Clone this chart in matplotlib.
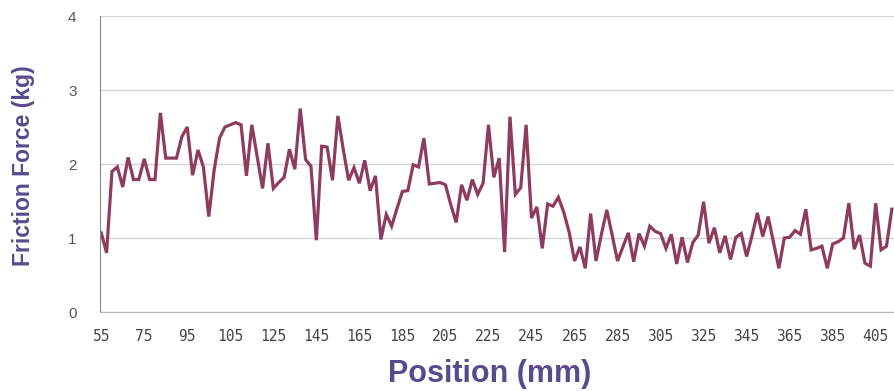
import numpy as np
import matplotlib.pyplot as plt

# friction readings, one per sample along the track
friction = [
    1.07, 0.80, 1.90, 1.96, 1.69, 2.09, 1.79, 1.79, 2.07, 1.79,
    1.79, 2.69, 2.08, 2.08, 2.08, 2.37, 2.50, 1.85, 2.19, 1.96,
    1.29, 1.92, 2.35, 2.50, 2.53, 2.56, 2.53, 1.84, 2.53, 2.10,
    1.67, 2.28, 1.67, 1.75, 1.82, 2.20, 1.93, 2.75, 2.06, 1.97,
    0.97, 2.24, 2.23, 1.78, 2.65, 2.20, 1.78, 1.95, 1.74, 2.05,
    1.64, 1.84, 0.98, 1.32, 1.16, 1.40, 1.63, 1.64, 1.99, 1.96,
    2.35, 1.73, 1.74, 1.75, 1.72, 1.45, 1.21, 1.72, 1.51, 1.79,
    1.59, 1.74, 2.53, 1.82, 2.08, 0.81, 2.64, 1.59, 1.68, 2.53,
    1.27, 1.42, 0.86, 1.46, 1.43, 1.55, 1.35, 1.08, 0.69, 0.88,
    0.59, 1.33, 0.69, 1.05, 1.38, 1.04, 0.69, 0.88, 1.07, 0.68,
    1.06, 0.89, 1.16, 1.09, 1.06, 0.86, 1.05, 0.65, 1.01, 0.67,
    0.94, 1.04, 1.49, 0.93, 1.14, 0.80, 1.03, 0.71, 1.01, 1.06,
    0.75, 1.03, 1.34, 1.02, 1.29, 0.94, 0.59, 1.00, 1.01, 1.10,
    1.05, 1.39, 0.84, 0.86, 0.89, 0.59, 0.92, 0.95, 1.00, 1.47,
    0.85, 1.04, 0.66, 0.62, 1.47, 0.84, 0.89, 1.39,
]

position_labels = ["55", "75", "95", "105", "125", "145", "165", "185", "205",
                   "225", "245", "265", "285", "305", "325", "345", "365",
                   "385", "405"]
label_step = 8

x = np.arange(len(friction))

fig = plt.figure(figsize=(8.94, 3.91), dpi=100)
ax = fig.add_axes([0.112, 0.202, 0.888, 0.757])

ax.plot(x, friction, color='#8e3c5e', lw=2.3, solid_joinstyle='miter')

ax.set_ylim(0, 4)
ax.set_xlim(-0.2, 147.4)
ax.set_yticks([0, 1, 2, 3, 4])
ax.yaxis.grid(True, color='#d6d6d6', lw=1)
ax.set_axisbelow(True)

ax.set_xticks(np.arange(len(position_labels)) * label_step)
ax.set_xticklabels(position_labels, family='DejaVu Sans Mono', fontsize=10.5,
                   color='#444444')
for lbl in ax.get_yticklabels():
    lbl.set_fontsize(11)
    lbl.set_color('#555555')
    lbl.set_family('Liberation Sans')
ax.tick_params(axis='x', length=0, pad=12)
ax.tick_params(axis='y', length=0, pad=17)

for side in ['top', 'right']:
    ax.spines[side].set_visible(False)
ax.spines['left'].set_color('#8a8a8a')
ax.spines['bottom'].set_color('#b5b5b5')

ax.set_xlabel('Position (mm)', family='Liberation Sans', fontsize=22,
              fontweight='bold', color='#5a4a8c', va='center')
ax.xaxis.set_label_coords(0.49, -0.21)
ax.set_ylabel('Friction Force (kg)', family='Liberation Sans', fontsize=16.5,
              fontweight='bold', color='#5a4a8c', va='center')
ax.yaxis.set_label_coords(-0.096, 0.493)

fig.savefig('out.png', dpi=100)
